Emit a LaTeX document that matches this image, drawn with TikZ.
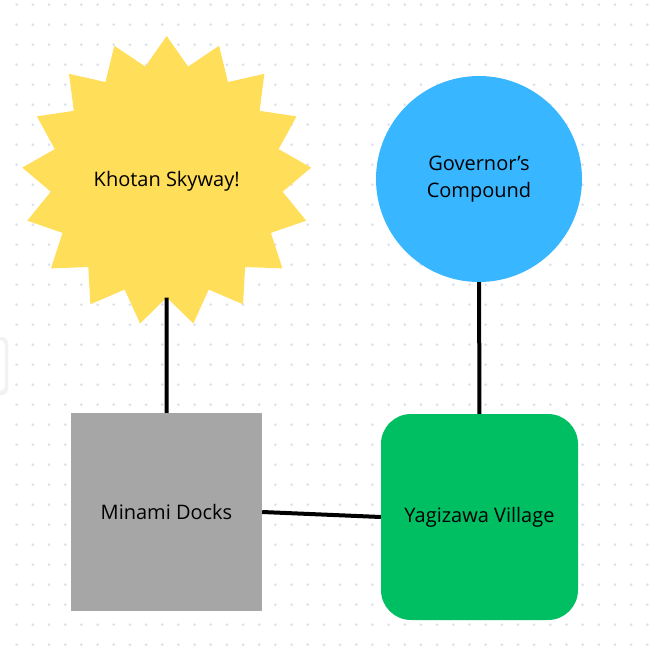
\documentclass[tikz,border=0pt]{standalone}
\usepackage{fontspec}
\setmainfont{Open Sans}
\usetikzlibrary{shapes}
\usetikzlibrary{backgrounds}

\definecolor{dotgrey}{HTML}{DCE1EB}
\definecolor{sunyellow}{HTML}{FFDE59}
\definecolor{skyblue}{HTML}{38B6FF}
\definecolor{dockgrey}{HTML}{A6A6A6}
\definecolor{fieldgreen}{HTML}{00BF63}

\begin{document}
\begin{tikzpicture}[x=1pt,y=-1pt,font=\fontsize{20}{27}\selectfont]
\tikzstyle{burst} = [circle, minimum size=233pt, inner sep=0pt]
\tikzstyle{roundplace} = [circle, fill=skyblue, minimum size=206pt, inner sep=0pt, align=center]
\tikzstyle{squareplace} = [rectangle, fill=dockgrey, minimum width=191pt, minimum height=198pt]
\tikzstyle{softplace} = [rectangle, fill=fieldgreen, rounded corners=30pt,
minimum width=197pt, minimum height=206pt]
\tikzstyle{link} = [draw, line width=4pt]
\useasboundingbox (0,0) rectangle (648,653);
% dotted canvas
\begin{scope}[on background layer]
\fill[white] (0,0) rectangle (648,653);
\foreach \i in {0,...,39}
  \foreach \j in {0,...,32}
    \fill[dotgrey] (16.7+16.17*\i, 4.7+20*\j) circle (1.5);
% side panel at the left edge
\fill[black!5, rounded corners=6pt] (-20,337) rectangle (8,395);
\fill[white, rounded corners=6pt] (-20,340) rectangle (5,391);
\end{scope}
% places
\node [burst] (sky) at (166.7,181) {Khotan Skyway!};
\node [roundplace] (gov) at (479,179) {Governor’s\\Compound};
\node [squareplace] (docks) at (166.5,512) {Minami Docks};
\node [softplace] (village) at (479.5,517) {Yagizawa Village};
% 17 spikes round the skyway
\begin{scope}[on background layer]
\fill[sunyellow, shift={(sky.center)}] (-90:145)
  \foreach \k in {1,...,33} { -- ({-90+\k*360/34}:{isodd(\k) ? 116.4 : 145}) } -- cycle;
\end{scope}
% roads
\begin{scope}[on background layer]
\draw[link] (sky) -- (docks);
\draw[link] (gov) -- (village);
\draw[link] (docks.east) -- (village.west);
\end{scope}
\end{tikzpicture}
\end{document}
